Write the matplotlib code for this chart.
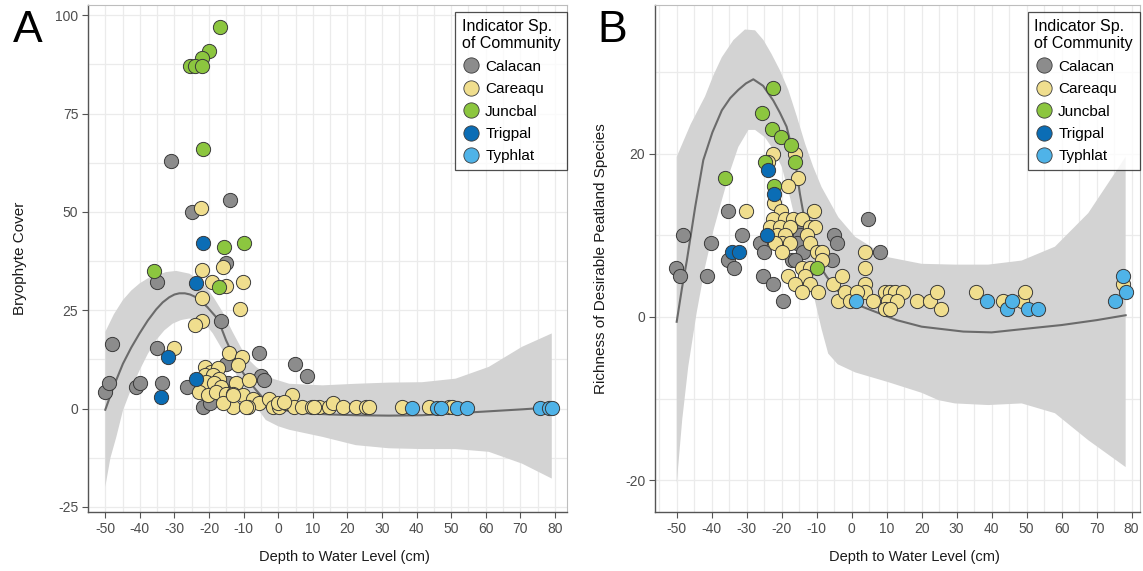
import numpy as np
import matplotlib
matplotlib.use("Agg")
import matplotlib.pyplot as plt
from matplotlib.lines import Line2D

plt.rcParams['font.family'] = ['Liberation Sans', 'DejaVu Sans']
plt.rcParams['axes.unicode_minus'] = False

species = ["Calacan", "Careaqu", "Juncbal", "Trigpal", "Typhlat"]
colors = {"Calacan": "#8c8c8c", "Careaqu": "#f0de8e", "Juncbal": "#8cc63f",
          "Trigpal": "#0b6db5", "Typhlat": "#4fb3e8"}

# ---------------- Panel A: Bryophyte cover ----------------
a_calacan_x = [-50.2, -48.9, -48, -41.1, -40.1, -35, -35, -33.6, -31, -26.3, -25, -21.8, -19.6,
               -16.5, -15.1, -15.2, -14.6, -16, -13.8, -5.7, -5, -4, 4.9, 8.3]
a_calacan_y = [4.2, 6.4, 16.3, 5.5, 6.4, 32.1, 15.3, 6.4, 63, 5.5, 50, 0.4, 1.4,
               22.2, 37.1, 11.3, 6.4, 4.8, 53, 14.1, 8.2, 7.2, 11.3, 8.2]
a_careaqu_x = [-30, -22.3, -22, -16, -19.1, -15.1, -10.1, -22, -11.1, -22, -24.2, -14.1, -10.5, -11.5,
               -21.3, -19.4, -17.5, -21.3, -18.9, -17, -20.9, -18.5, -16.5, -22.8, -20.4, -18, -15.1,
               -12.2, -13.2, -10.3, -8.4, -7.4, -5.5, -2.6, -8.8, -13.2, -16.1, -1.6, 0.3, 2.2, 4.1,
               4.6, 7, 9.9, 11.8, 14.7, 15.7, 18.6, 22.4, 25.3, 26.3, 35.9, 43.6, 49.3, 50.3,
               -9.3, -0.1, 1.8, -13.1, 10.4]
a_careaqu_y = [15.3, 51, 35.2, 36, 32.1, 31.2, 32.1, 28, 25.2, 22.2, 21.2, 14.1, 13.1, 11.2,
               10.6, 9.3, 10.2, 8.5, 8.5, 7.6, 6.8, 6.4, 5.5, 4.2, 3.4, 4.2, 3.8,
               6.4, 3.8, 3.4, 7.2, 2.5, 1.3, 2.5, 0.4, 0.4, 1.3, 0.4, 0.4, 1.3, 3.4,
               0.4, 0.4, 0.4, 0.4, 0.4, 1.3, 0.4, 0.4, 0.4, 0.4, 0.4, 0.4, 0.4, 0.4,
               0.3, 1.3, 1.7, 3.4, 0.3]
a_juncbal_x = [-36, -17, -16.8, -20, -22, -25.5, -24, -22, -21.7, -15.6, -9.8]
a_juncbal_y = [35, 31, 97, 91, 89, 87, 87, 87, 66, 41, 42]
a_trigpal_x = [-23.9, -31.9, -34, -23.9, -21.7]
a_trigpal_y = [32, 13, 3, 7.5, 42]
a_typhlat_x = [38.8, 46, 47, 51.7, 54.5, 75.8, 78.2, 79.3]
a_typhlat_y = [0.2, 0.2, 0.2, 0.2, 0.2, 0.2, 0.2, 0.2]

a_fit_x = [-50, -47.5, -44.9, -42.5, -40.1, -37.7, -35.3, -33.4, -31.5, -30, -28.6, -27, -25.5,
           -24, -22.8, -20.5, -18, -16.5, -15.1, -13.2, -11.3, -8.8, -6.4, -4, -1.6, 3, 8, 15,
           22.4, 32, 41.6, 51.3, 60.9, 70.5, 79.1]
a_fit_y = [-0.3, 5.8, 11.4, 15.5, 19.1, 22.4, 25.2, 27.0, 28.3, 29.0, 29.3, 29.3, 29.0,
           28.4, 27.6, 25.8, 23.3, 20.6, 17.4, 13.8, 10.6, 7.3, 4.7, 2.3, 0.5, -0.6, -1.2, -1.5,
           -1.7, -1.8, -1.7, -1.2, -0.7, -0.2, 0.3]
a_up_x = [-50, -47.5, -44.9, -42.5, -40.1, -37.7, -35.3, -32.4, -29.5, -25.7, -23.3, -20.9,
          -18.5, -16.1, -13.2, -9.3, -6.4, -1.6, 3.2, 12.8, 22.4, 32, 41.6, 51.3, 60.9, 70.5, 79.1]
a_up_y = [19.5, 24.0, 27.6, 30.0, 31.8, 33.1, 33.9, 34.7, 35, 34.3, 33.0, 31, 28.0, 24.6,
          19.5, 13.1, 10.6, 7.6, 6.3, 5.9, 6.3, 6.6, 6.7, 7.6, 10.6, 15.7, 19.1]
a_lo_x = [-50, -48.5, -46.8, -44.9, -42.5, -40.1, -37.7, -35.3, -32.9, -30.5, -28.1, -25.7,
          -22.8, -20.8, -18.9, -16.1, -13.6, -11.2, -8.8, -6.4, -3.6, 0, 3.2, 12.8, 22.4, 32,
          41.6, 51.3, 60.9, 70.5, 79.1]
a_lo_y = [-19.9, -12.5, -7.2, -0.5, 5.0, 9.7, 13.9, 17.4, 19.9, 21.6, 22.5, 22.9, 22.5,
          21.2, 19.1, 14.9, 11.0, 7.2, 3.6, 0.5, -2.9, -4.5, -5.4, -7.2, -9.3, -10.1, -10.3,
          -10.3, -11, -14, -17.8]

# ---------------- Panel B: richness ----------------
b_calacan_x = [-50.2, -49, -48.1, -41.3, -40.2, -35.3, -35.3, -33.5, -31.3, -26.2, -25, -25.3, -22.4,
               -19.5, -15, -14.8, -15.7, -13.8, -17.1, -16.2, -5, -4.3, -5.7, 4.6, 8.1]
b_calacan_y = [6, 5, 10, 5, 9, 13, 7, 6, 10, 9, 8, 5, 4,
               2, 11, 10, 9, 8, 7, 7, 10, 9, 7, 12, 8]
b_careaqu_x = [-22.4, -16.2, -24, -15.3, -18.1, -30.2, -22.2, -20.2, -10.7,
               -22.4, -19.1, -16.7, -14.3, -23.3, -20.5, -17.6, -11.9, -10.5,
               -21.4, -19.1, -12.9, -20, -17.6, -11.9, -21.9, -10, -8.6, -20, -8.6,
               -14.3, -11.9, -18.1, -13.3, -16.2, -11.9, -14.3, -9.5, -5.2, -2.9,
               3.8, 3.8, 3.8, 3.8, -3.8, -1.9, -0.5, 1.4, 6.2,
               9.5, 11, 12.4, 14.8, 10.5, 12.9, 9.5, 11, 18.6, 22.4, 24.3, 25.5, 35.4,
               43.3, 48.6, 49.5, 77.6]
b_careaqu_y = [20, 20, 19, 17, 16, 13, 14, 13, 13,
               12, 12, 12, 12, 11, 11, 11, 11, 11,
               10, 10, 10, 9, 9, 9, 9, 8, 8, 8, 7,
               6, 6, 5, 5, 4, 4, 3, 3, 4, 5,
               8, 6, 4, 3, 2, 3, 2, 3, 2,
               3, 3, 3, 3, 2, 2, 1, 1, 2, 2, 3, 1, 3,
               2, 2, 3, 4]
b_juncbal_x = [-22.4, -25.5, -22.9, -20.3, -17.2, -16.2, -24.8, -36.2, -22.2, -10]
b_juncbal_y = [28, 25, 23, 22, 21, 19, 19, 17, 16, 6]
b_trigpal_x = [-24, -22.2, -34.3, -32.2, -24.3]
b_trigpal_y = [18, 15, 8, 8, 10]
b_typhlat_x = [1.2, 38.6, 44.3, 45.7, 50.5, 53.3, 75.2, 77.6, 78.3]
b_typhlat_y = [2, 2, 1, 2, 1, 1, 2, 5, 3]

b_fit_x = [-50, -48.5, -47.1, -44.7, -42.4, -39.8, -37.1, -34.7, -32.4, -30.2, -28.1, -25.3,
           -22.4, -20.5, -18.6, -16.2, -14.8, -13.3, -11.5, -9.5, -7.1, -4, 0, 3.3, 8.1, 12.9,
           20, 31.9, 40, 51, 60, 70, 78.3]
b_fit_y = [-0.6, 3.5, 6.9, 13.5, 19.2, 22.6, 25.3, 26.8, 27.8, 28.6, 29.1, 28.3,
           26.5, 25.0, 23.3, 19.2, 15.1, 11.5, 8.5, 6.5, 4.9, 3.2, 1.8, 1.2, 0.4, -0.4,
           -1.2, -1.8, -1.9, -1.4, -1, -0.4, 0.2]
b_up_x = [-50, -46, -41.9, -39.5, -37.1, -33.8, -30.5, -27.6, -25.2, -22.9, -20.5, -18.1, -15.7,
          -13.3, -11, -8.6, -3.8, 1, 10.5, 20, 29.5, 39, 48.6, 58.1, 67.6, 78.3]
b_up_y = [19.6, 23.6, 27, 29.6, 31.8, 33.9, 35.2, 35.1, 33.9, 32.2, 30.2, 27.8, 24.6,
          21.2, 18.4, 15.9, 12.2, 9.8, 7.3, 6.5, 6.4, 6.4, 6.9, 8.6, 12.7, 19.6]
b_lo_x = [-50, -48.4, -46.7, -44.3, -41.9, -39.5, -37.1, -34.7, -32.4, -29.5, -27.6, -24.8,
          -22.4, -20, -17.6, -15.2, -12.8, -10.5, -8.6, -6.7, -4, 1, 10.5, 20, 24.8, 29.5,
          39, 48.6, 58.1, 67.6, 78.3]
b_lo_y = [-20.4, -12.5, -6.1, 0.5, 6.1, 10.6, 14.3, 17.9, 20.8, 22.9, 22.9, 22, 20.5,
          18.4, 14.6, 10.2, 6.0, 2, -1.5, -4.5, -5.8, -6.8, -8.0, -9.3, -10.2, -10.6,
          -10.8, -10.6, -11.8, -15.1, -18.4]

x_ticks = [-50, -40, -30, -20, -10, 0, 10, 20, 30, 40, 50, 60, 70, 80]

W, H = 1143, 571
fig = plt.figure(figsize=(W / 100, H / 100), dpi=100)

def fx(p):
    return p / W

def fy(p):
    return 1 - p / H

axA = fig.add_axes([fx(88), fy(512), fx(567 - 88), (512 - 5) / H])
axB = fig.add_axes([fx(655), fy(512), fx(1140 - 655), (512 - 5) / H])

panelsA = {"Calacan": (a_calacan_x, a_calacan_y), "Careaqu": (a_careaqu_x, a_careaqu_y),
           "Juncbal": (a_juncbal_x, a_juncbal_y), "Trigpal": (a_trigpal_x, a_trigpal_y),
           "Typhlat": (a_typhlat_x, a_typhlat_y)}
panelsB = {"Calacan": (b_calacan_x, b_calacan_y), "Careaqu": (b_careaqu_x, b_careaqu_y),
           "Juncbal": (b_juncbal_x, b_juncbal_y), "Trigpal": (b_trigpal_x, b_trigpal_y),
           "Typhlat": (b_typhlat_x, b_typhlat_y)}


def draw(ax, pts, fx_, fy_, ux, uy, lx, ly, xlim, ylim, yticks, yminor, ylabel, ypad, xlab_pos):
    poly_x = list(ux) + list(lx[::-1])
    poly_y = list(uy) + list(ly[::-1])
    ax.fill(poly_x, poly_y, color="#d3d3d3", lw=0, zorder=1)
    ax.plot(fx_, fy_, color="#6b6b6b", lw=1.5, zorder=2, solid_joinstyle="round")
    for sp in species:
        xs, ys = pts[sp]
        ax.scatter(xs, ys, s=105, c=colors[sp], edgecolors="#3a3a3a", linewidths=0.7,
                   zorder=3, label=sp)
    ax.set_xlim(*xlim)
    ax.set_ylim(*ylim)
    ax.set_xticks(x_ticks)
    ax.set_xticks([v + 5 for v in x_ticks[:-1]] + [-55], minor=True)
    ax.set_yticks(yticks)
    ax.set_yticks(yminor, minor=True)
    ax.grid(True, which="both", color="#ebebeb", lw=0.9, zorder=0)
    ax.set_axisbelow(True)
    ax.tick_params(which="minor", length=0)
    ax.tick_params(which="major", length=4, width=0.8, color="#555555",
                   labelsize=10, labelcolor="#4d4d4d", pad=3)
    for s in ["top", "right"]:
        ax.spines[s].set_color("#bdbdbd")
        ax.spines[s].set_linewidth(0.8)
    for s in ["left", "bottom"]:
        ax.spines[s].set_color("#555555")
        ax.spines[s].set_linewidth(1.0)
    ax.set_xlabel("Depth to Water Level (cm)", fontsize=10.5, color="#1a1a1a")
    ax.xaxis.set_label_coords(xlab_pos, -0.075)
    ax.set_ylabel(ylabel, fontsize=11, color="#1a1a1a", labelpad=ypad)
    handles = [Line2D([], [], marker="o", ls="", markersize=11, markerfacecolor=colors[sp],
                      markeredgecolor="#3a3a3a", markeredgewidth=0.6) for sp in species]
    leg = ax.legend(handles, species, title="Indicator Sp.\nof Community", loc="upper right",
                    bbox_to_anchor=(1.0, 0.986), borderaxespad=0.0, frameon=True,
                    fancybox=False, edgecolor="#222222", fontsize=11, title_fontsize=11.5,
                    handletextpad=0.35, labelspacing=0.55, borderpad=0.45, handlelength=1.2)
    leg.get_frame().set_linewidth(0.9)
    leg._legend_box.align = "left"


draw(axA, panelsA, a_fit_x, a_fit_y, a_up_x, a_up_y, a_lo_x, a_lo_y,
     (-54.5, 83.5), (-26.3, 102.6), [-25, 0, 25, 50, 75, 100],
     [-12.5, 12.5, 37.5, 62.5, 87.5], "Bryophyte Cover", 20, 0.535)
draw(axB, panelsB, b_fit_x, b_fit_y, b_up_x, b_up_y, b_lo_x, b_lo_y,
     (-56.2, 82.4), (-23.9, 38.2), [-20, 0, 20], [-10, 10, 30],
     "Richness of Desirable Peatland Species", 12, 0.535)

fig.text(fx(28), fy(42), "A", fontsize=32, color="black", ha="center", va="baseline")
fig.text(fx(612), fy(42), "B", fontsize=32, color="black", ha="center", va="baseline")

fig.savefig("out.png", dpi=100)
